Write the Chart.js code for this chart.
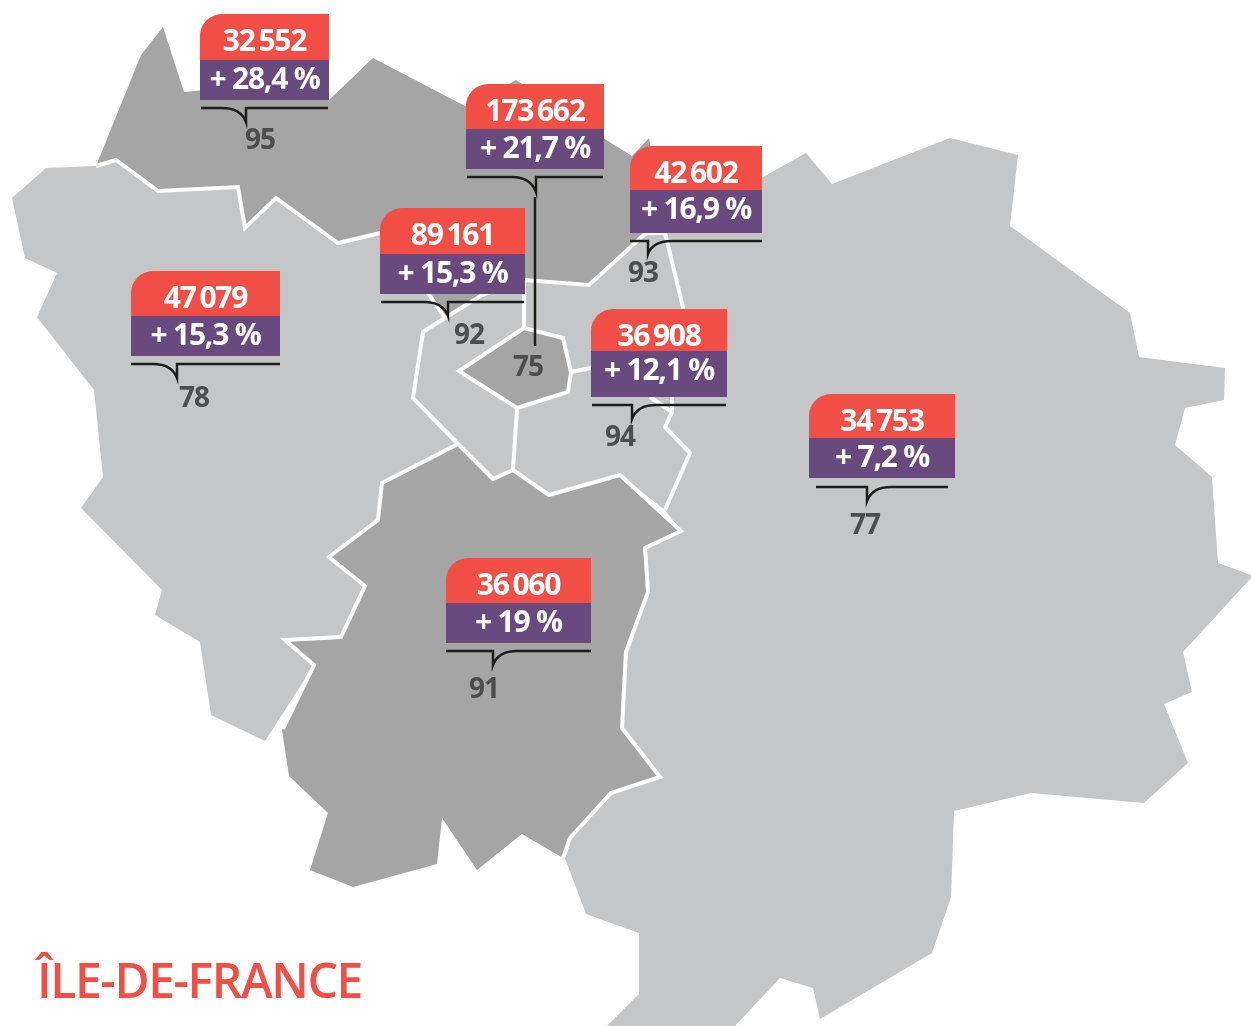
<!DOCTYPE html>
<html lang="fr">
<head>
<meta charset="utf-8">
<title>Île-de-France</title>
<script src="https://cdn.jsdelivr.net/npm/chart.js@4"></script>
<style>
    html, body { margin: 0; padding: 0; background: #fff; }
    canvas { display: block; }
</style>
</head>
<body>
<canvas id="map-chart" width="1251" height="1026"></canvas>
<script>
// ================================================
// DATA
// ================================================
const regionTitle = 'ÎLE-DE-FRANCE';
const departments = ['95', '75', '93', '92', '78', '94', '77', '91'];
const jobCounts = [32552, 173662, 42602, 89161, 47079, 36908, 34753, 36060];
const growthRates = ['28,4', '21,7', '16,9', '15,3', '15,3', '12,1', '7,2', '19'];

// Department outlines, in map units
const outline78 = [[95,166],[46,168],[12,198],[25,258],[57,273],[37,317],[94,390],[103,477],[81,508],[162,590],[155,615],[200,642],[211,715],[265,741],[314,665],[285,640],[341,637],[365,586],[329,557],[378,520],[382,483],[458,444],[413,398],[423,332],[445,318],[428,293],[380,233],[338,243],[276,198],[245,228],[238,187],[158,191],[116,160]];
const outline95 = [[96,166],[141,55],[163,27],[184,92],[205,90],[329,100],[373,58],[467,107],[516,80],[603,138],[632,156],[649,138],[665,233],[646,233],[589,285],[524,280],[482,295],[445,318],[428,293],[380,233],[338,243],[276,198],[245,228],[238,187],[158,191],[116,160]];
const outline77 = [[665,233],[740,190],[806,153],[832,184],[950,138],[1018,155],[1010,226],[1130,313],[1139,357],[1225,368],[1224,400],[1185,408],[1175,445],[1212,477],[1218,563],[1251,575],[1251,578],[1183,652],[1192,692],[1164,704],[1188,763],[1144,803],[1031,793],[954,811],[951,897],[932,953],[820,1019],[813,988],[780,978],[735,1026],[607,1026],[639,994],[639,933],[586,914],[565,858],[570,838],[611,793],[660,777],[622,728],[626,652],[648,592],[645,548],[681,531],[665,510],[690,453],[665,427],[672,412],[672,398],[683,307]];
const outline91 = [[458,444],[382,483],[378,520],[329,557],[365,586],[341,637],[285,640],[314,665],[282,730],[289,776],[328,813],[310,870],[353,887],[437,864],[442,818],[477,870],[522,834],[563,858],[570,838],[611,793],[660,777],[622,728],[626,652],[648,592],[645,548],[681,531],[620,475],[549,495],[513,470],[493,479]];
const outline92 = [[445,318],[482,295],[524,280],[524,328],[459,371],[517,408],[513,470],[493,479],[458,444],[413,398],[423,332]];
const outline93 = [[524,280],[589,285],[646,233],[665,233],[683,307],[650,340],[591,368],[571,372],[563,338],[524,328]];
const outline94 = [[517,408],[568,392],[571,372],[591,368],[650,340],[683,307],[672,398],[672,412],[665,427],[690,453],[665,510],[620,475],[549,495],[513,470]];
const outline75 = [[524,328],[563,338],[571,372],[568,392],[517,408],[459,371]];

// White borders between departments
const borderNorth = [[96,166],[116,160],[158,191],[238,187],[245,228],[276,198],[338,243],[380,233],[428,293],[445,318],[482,295],[524,280],[589,285],[646,233],[665,233],[683,307],[672,398],[672,412],[665,427],[690,453],[665,510]];
const borderParis = [[524,328],[563,338],[571,372],[568,392],[517,408],[459,371],[524,328]];
const border92West = [[445,318],[423,332],[413,398],[458,444],[493,479],[513,470],[517,408]];
const border92East = [[524,280],[524,328]];
const border91 = [[458,444],[382,483],[378,520],[329,557],[365,586],[341,637],[285,640],[314,665],[283,729]];
const border91East = [[563,858],[570,838],[611,793],[660,777],[622,728],[626,652],[648,592],[645,548],[681,531],[620,475],[549,495],[513,470]];
const border94North = [[571,372],[591,368]];
const border94East = [[650,397],[672,412]];

// Callout layout: left, right, redTop, split, purpleBottom, bracketY, tipX, tipY, codeX, codeY
const calloutBoxes = [
    [200, 329, 14, 60, 100, 108, 246, 122, 260, 149],
    [466, 604, 84, 129, 169, 177, 536, 192, 528, 376],
    [630, 762, 146, 190, 233, 241, 648, 254, 643, 282],
    [380, 525, 208, 254, 294, 302, 448, 316, 469, 344],
    [131, 280, 271, 316, 356, 364, 177, 378, 194, 407],
    [591, 727, 309, 351, 397, 405, 632, 419, 620, 446],
    [809, 955, 394, 438, 478, 487, 867, 501, 865, 534],
    [446, 591, 558, 603, 643, 651, 493, 665, 484, 698]
];
const bracketCurveLeft = [true, true, false, true, true, false, false, false];
const bracketInset = [1, 1, 0, 1, 0, 1, 7, 0];

// ================================================
// CHART HELPERS
// ================================================
const COLOR_LIGHT = '#c5c6c8';
const COLOR_DARK = '#a5a5a5';
const COLOR_RED = '#f14f46';
const COLOR_PURPLE = '#694a7f';
const COLOR_CODE = '#4d4d4d';
const COLOR_INK = '#1d1d1b';
const FONT_NAME = '"Open Sans", sans-serif';
const THIN_SPACE = '\u2009';

function toPoints(outline) {
    return outline.map(p => ({ x: p[0], y: p[1] }));
}

function areaDataset(outline, color) {
    return {
        data: toPoints(outline),
        showLine: true,
        fill: 'shape',
        backgroundColor: color,
        borderWidth: 0,
        pointRadius: 0
    };
}

function borderDataset(outline, width) {
    return {
        data: toPoints(outline),
        showLine: true,
        fill: false,
        borderColor: '#ffffff',
        borderWidth: width,
        borderJoinStyle: 'miter',
        pointRadius: 0
    };
}

function formatCount(value) {
    const text = String(value);
    return text.slice(0, -3) + THIN_SPACE + text.slice(-3);
}

function drawText(ctx, text, x, y, font, color, spacing) {
    ctx.font = font;
    ctx.fillStyle = color;
    ctx.letterSpacing = spacing;
    ctx.textAlign = 'center';
    ctx.textBaseline = 'alphabetic';
    ctx.fillText(text, x, y);
}

// Callouts and the title are drawn after the datasets, through the chart scales
const calloutPlugin = {
    id: 'callouts',
    afterDatasetsDraw(chart) {
        const ctx = chart.ctx;
        const px = v => chart.scales.x.getPixelForValue(v);
        const py = v => chart.scales.y.getPixelForValue(v);

        ctx.save();
        departments.forEach((code, i) => {
            const box = calloutBoxes[i];
            const left = px(box[0]);
            const right = px(box[1]);
            const top = py(box[2]);
            const split = py(box[3]);
            const bottom = py(box[4]);
            const bracketY = py(box[5]);
            const tipX = px(box[6]);
            const tipY = py(box[7]);
            const centerX = (left + right) / 2;

            ctx.fillStyle = COLOR_RED;
            ctx.beginPath();
            ctx.roundRect(left, top, right - left, split - top, [22, 0, 0, 0]);
            ctx.fill();
            ctx.fillStyle = COLOR_PURPLE;
            ctx.fillRect(left, split, right - left, bottom - split);

            // Bracket under the box
            const lineLeft = left + bracketInset[i];
            const lineRight = right - bracketInset[i];
            ctx.strokeStyle = COLOR_INK;
            ctx.lineWidth = 2.5;
            ctx.lineJoin = 'miter';
            ctx.beginPath();
            ctx.moveTo(lineLeft, bracketY);
            if (bracketCurveLeft[i]) {
                ctx.lineTo(tipX - 24, bracketY);
                ctx.bezierCurveTo(tipX - 10, bracketY, tipX - 3, tipY - 8, tipX, tipY);
                ctx.lineTo(tipX, bracketY);
            } else {
                ctx.lineTo(tipX, bracketY);
                ctx.lineTo(tipX, tipY);
                ctx.bezierCurveTo(tipX + 3, tipY - 8, tipX + 10, bracketY, tipX + 24, bracketY);
            }
            ctx.lineTo(lineRight, bracketY);
            ctx.stroke();

            const countFont = '700 30px ' + FONT_NAME;
            drawText(ctx, formatCount(jobCounts[i]), centerX, top + 37, countFont, '#ffffff', '-1.2px');
            drawText(ctx, '+ ' + growthRates[i] + ' %', centerX, split + 29, countFont, '#ffffff', '-1.2px');
            drawText(ctx, code, px(box[8]), py(box[9]), '700 28px ' + FONT_NAME, COLOR_CODE, '-1px');
        });

        // Leader line from the Paris callout down to its code
        ctx.strokeStyle = COLOR_INK;
        ctx.lineWidth = 2.5;
        ctx.beginPath();
        ctx.moveTo(px(535), py(197));
        ctx.lineTo(px(535), py(346));
        ctx.stroke();

        drawText(ctx, regionTitle, px(199.5), py(998), '600 48px ' + FONT_NAME, COLOR_RED, '-1.4px');
        ctx.restore();
    }
};

// ================================================
// INITIALIZE CHART
// ================================================
new Chart(document.getElementById('map-chart').getContext('2d'), {
    type: 'scatter',
    data: {
        // The first dataset is painted last, so borders come before areas
        datasets: [
            borderDataset(borderNorth, 4),
            borderDataset(borderParis, 4),
            borderDataset(border92West, 4),
            borderDataset(border92East, 4),
            borderDataset(border91, 4),
            borderDataset(border91East, 4),
            borderDataset(border94North, 4),
            borderDataset(border94East, 4),
            areaDataset(outline75, COLOR_DARK),
            areaDataset(outline92, COLOR_LIGHT),
            areaDataset(outline93, COLOR_LIGHT),
            areaDataset(outline94, COLOR_LIGHT),
            areaDataset(outline91, COLOR_DARK),
            areaDataset(outline95, COLOR_DARK),
            areaDataset(outline78, COLOR_LIGHT),
            areaDataset(outline77, COLOR_LIGHT)
        ]
    },
    options: {
        responsive: false,
        animation: false,
        layout: { padding: 0 },
        plugins: {
            legend: { display: false },
            tooltip: { enabled: false }
        },
        scales: {
            x: { type: 'linear', min: 0, max: 1251, display: false },
            y: { type: 'linear', min: 0, max: 1026, reverse: true, display: false }
        }
    },
    plugins: [calloutPlugin]
});
</script>
</body>
</html>
